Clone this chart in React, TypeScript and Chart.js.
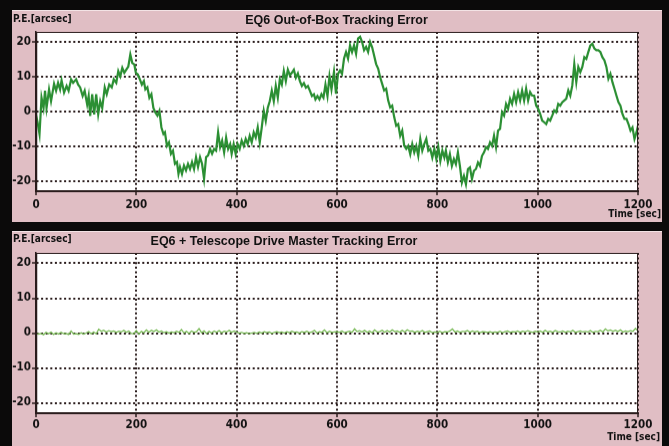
import React, { useEffect, useRef } from "react";
import { Chart, registerables } from "chart.js";

Chart.register(...registerables);

// ---------- data ----------
const X_TICKS = [0, 200, 400, 600, 800, 1000, 1200];
const Y_TICKS = [-20, -10, 0, 10, 20];
const X_MIN = 0;
const X_MAX = 1200;
const Y_MIN = -23;
const Y_MAX = 23;

const TOP_TITLE = "EQ6 Out-of-Box Tracking Error";
const BOTTOM_TITLE = "EQ6 + Telescope Drive Master Tracking Error";
const Y_LABEL = "P.E.[arcsec]";
const X_LABEL = "Time [sec]";

const TOP_TIMES = [
  0, 3, 7, 11, 15, 18, 21, 26, 30, 36, 40, 44, 48, 51, 56, 61, 65, 70, 74, 80,
  84, 88, 93, 97, 102, 105, 108, 112, 116, 120, 124, 128, 132, 137, 141, 146, 151, 155, 160, 164,
  168, 172, 176, 180, 184, 188, 192, 196, 199, 203, 207, 211, 215, 218, 222, 226, 230, 234, 238, 242,
  246, 250, 254, 257, 261, 265, 269, 273, 277, 281, 284, 287, 291, 295, 299, 303, 307, 311, 315, 319,
  323, 327, 331, 335, 339, 343, 347, 351, 355, 359, 363, 367, 371, 375, 379, 383, 387, 390, 394, 398,
  402, 406, 410, 414, 418, 422, 426, 430, 434, 438, 442, 446, 450, 454, 458, 462, 466, 470, 474, 478,
  482, 486, 490, 494, 498, 502, 506, 510, 514, 518, 522, 526, 530, 534, 538, 542, 546, 550, 554, 557,
  561, 565, 569, 573, 577, 581, 585, 589, 594, 598, 602, 606, 610, 614, 618, 622, 626, 630, 634, 638,
  642, 646, 650, 654, 658, 662, 666, 670, 674, 678, 682, 686, 690, 694, 698, 702, 706, 710, 714, 718,
  722, 726, 730, 734, 738, 742, 746, 750, 754, 758, 762, 766, 770, 774, 778, 782, 786, 790, 794, 798,
  802, 806, 810, 814, 817, 821, 825, 829, 833, 837, 841, 845, 849, 853, 857, 861, 865, 869, 873, 877,
  881, 885, 889, 893, 897, 901, 905, 909, 913, 917, 921, 925, 929, 933, 937, 941, 945, 949, 953, 957,
  961, 965, 969, 973, 977, 981, 985, 989, 993, 997, 1001, 1005, 1009, 1013, 1017, 1021, 1025, 1029, 1033, 1037,
  1041, 1045, 1049, 1053, 1057, 1061, 1065, 1069, 1073, 1077, 1081, 1085, 1089, 1093, 1097, 1101, 1105, 1109, 1113, 1117,
  1121, 1125, 1129, 1133, 1137, 1141, 1145, 1149, 1153, 1157, 1161, 1165, 1169, 1173, 1177, 1181, 1185, 1189, 1193, 1197,
  1200,
];

const TOP_VALUES = [
  -1, -3, -6.5, 4, 1, 6, 1, 6.4, 3, 8, 6, 8.3, 6.4, 9, 5.5, 7.4, 6, 9.3, 8.3, 9.3,
  7.8, 7, 4.5, 6, 2, 4.5, -1.3, 5, -0.8, 5, -0.8, 3, 1, 7, 5, 7.8, 7, 9.3, 8.3, 11.7,
  10.2, 12.6, 11.2, 12.1, 13, 16.5, 14, 13.6, 11.2, 10.7, 9.3, 7.8, 8.8, 6.4, 7, 4, 5, 1, -0.3, -1.2,
  0.2, -4.6, -6.5, -6, -9.9, -8.9, -12.2, -11.3, -15.1, -14.6, -18, -16, -18, -15.6, -17, -15.1, -16.6, -14.6, -16.6, -13.2,
  -16, -13.2, -15.1, -19.4, -13.2, -12.7, -10.8, -12.2, -10.8, -11.3, -6, -10.3, -8.4, -11.8, -7.5, -10.8, -9.4, -12.2, -9.4, -12.2,
  -9.4, -10.8, -8.4, -9.9, -7.9, -9.4, -7, -8.9, -6, -7.5, -4.6, -8.9, -4.6, 0.2, -2.7, 1.1, 3, 6, 3, 7.4,
  4, 9.3, 7.8, 11.7, 8.8, 12.1, 10.5, 11.2, 12.1, 9.8, 11, 8.8, 7.4, 8.2, 6.9, 7.4, 6, 4.5, 5, 3.5,
  4.5, 3.5, 5, 4, 7.8, 4.5, 10.2, 6.4, 11.5, 5.1, 10.9, 11.9, 10.9, 15.3, 17.2, 15.3, 19.1, 17.2, 19.1, 16.7,
  21.1, 21.6, 20.1, 17.7, 18.7, 17.2, 20.1, 18.6, 16.2, 13.7, 12.4, 9.9, 8, 6.1, 6.6, 3.2, 1.2, 1.7, -1.6, -4.1,
  -3.6, -7, -5.5, -9.9, -10.8, -9.9, -12.3, -9.4, -11.8, -9.9, -12.8, -7.9, -11.3, -9.4, -7.9, -11.3, -10.8, -13.3, -10.8, -13.7,
  -10.3, -14.3, -11.3, -13.3, -11.3, -14.7, -12.3, -15.7, -13.7, -15.2, -11.8, -15.7, -20.5, -18.6, -21, -16.6, -16.1, -19.5, -17.1, -16.6,
  -14.7, -15.7, -12.8, -11.8, -10.3, -10.8, -8.9, -9.9, -7, -10.3, -5.5, -5, -0.2, -1.2, 2.2, 0.8, 3.7, 2.2, 5.1, 2.7,
  5.6, 3.2, 6.1, 3.2, 6.6, 3.2, 5.6, 4.6, 4.6, 1.7, 0.8, -0.7, -2.6, -3.1, -3.6, -2.1, -2.6, -1.2, 0.3, -0.2,
  2.2, 1.7, 2.7, 3.2, 3.7, 6.1, 4.6, 7.5, 13.7, 8.5, 12.9, 11.4, 12.9, 15.7, 15.2, 17.2, 19.1, 19.6, 18.2, 17.7,
  17.7, 17.2, 15.7, 14.8, 12.9, 9.5, 10.9, 8.5, 6.6, 4.6, 2.7, 1.7, -0.7, -2.1, -2.1, -3.6, -5.5, -4.6, -7.9, -6,
  -4.1,
];

// sampled every 5 s
const BOTTOM_STEP = 5;
const BOTTOM_VALUES = [
  0.0, -0.3, -0.1, -0.5, 0.2, -0.2, 0.3, -0.4, 0.1, -0.3,
  0.2, -0.2, -0.1, -0.4, 0.6, -0.3, -0.2, -0.4, 0.1, -0.3,
  0.0, 0.4, -0.2, 0.3, -0.2, 1.1, 0.5, 0.8, 0.3, 0.7,
  0.4, 0.6, 0.2, 0.5, 0.3, 0.8, 0.2, 0.6, -0.1, -0.2,
  0.7, -0.3, 0.5, 0.1, 0.9, 0.2, 0.8, 0.4, 0.9, 0.3,
  0.6, 0.1, 0.4, 0.0, 0.3, 0.1, 0.5, 0.2, 1.0, 0.0,
  0.5, -0.1, 0.6, 0.2, 0.4, 1.3, 0.1, 0.6, -0.1, 0.5,
  0.0, 0.6, 0.2, 0.7, 0.1, 0.5, 0.3, 0.8, 0.2, 0.6,
  0.3, 0.0, 0.2, -0.1, 0.1, -0.2, 0.0, 0.2, -0.1, 0.3,
  0.0, 0.4, 0.1, 0.3, -0.1, 0.2, 0.4, 0.1, 0.3, 0.0,
  0.4, 0.1, 0.5, 0.2, 0.3, 0.0, 0.4, 0.2, 0.5, 0.1,
  0.3, 0.8, 0.0, 0.4, 0.2, 0.9, 0.1, 0.5, 0.2, 0.3,
  0.4, 0.2, 0.6, 0.1, 0.3, 0.5, 0.2, 1.2, 0.4, 0.7,
  0.3, 0.8, 0.2, 0.6, 0.1, 0.9, 0.3, 0.4, 0.8, 0.2,
  0.7, 0.3, 0.9, 0.4, 0.6, 0.2, 0.8, 0.3, 0.9, 0.5,
  0.6, 0.2, 0.5, 0.3, 0.7, 0.2, 0.4, 0.6, 0.1, 0.3,
  0.2, 0.5, 0.1, 0.4, 0.3, 0.6, 1.2, 0.3, 0.6, 0.2,
  0.5, 0.4, 0.7, 0.2, 0.6, 0.3, 0.5, 0.1, 0.4, 0.3,
  0.2, 0.4, 0.1, 0.3, 0.2, 0.5, 0.1, 0.4, 0.6, 0.2,
  0.4, 0.3, 0.6, 0.2, 0.5, 0.3, 0.7, 0.4, 0.2, 0.5,
  0.3, 0.6, 0.2, 0.8, 0.3, 0.5, 0.2, 0.7, 0.4, 0.3,
  0.6, 0.2, 0.5, 0.3, 0.8, 0.2, 0.4, 0.6, 0.3, 0.5,
  0.3, 0.7, 0.2, 0.5, 0.4, 0.8, 0.3, 1.2, 0.6, 0.9,
  0.5, 0.8, 0.4, 0.9, 0.3, 0.6, 0.4, 0.7, 0.5, 1.3,
  0.6,
];
const BOTTOM_TIMES = BOTTOM_VALUES.map((_, i) => i * BOTTOM_STEP);

// ---------- styles ----------
const PINK = "#e0bec4";
const DARK = "#2a1c1c";
const NARROW = '"Liberation Sans Narrow", "DejaVu Sans Condensed", "Liberation Sans", Arial, sans-serif';
const SANS = '"Liberation Sans", Arial, sans-serif';

const decorPlugin = {
  id: "panelDecor",
  beforeDraw(chart: any) {
    const { ctx, chartArea: a } = chart;
    ctx.save();
    ctx.fillStyle = "#ffffff";
    ctx.fillRect(a.left, a.top, a.right - a.left, a.bottom - a.top);
    ctx.restore();
  },
  afterDraw(chart: any, _args: any, o: any) {
    const { ctx, chartArea: a } = chart;
    ctx.save();
    ctx.strokeStyle = DARK;
    ctx.lineWidth = 1;
    ctx.strokeRect(a.left + 0.5, a.top + 0.5, a.right - a.left - 1, a.bottom - a.top - 1);
    ctx.lineWidth = 2;
    ctx.beginPath();
    ctx.moveTo(a.left, a.bottom);
    ctx.lineTo(a.right + 1, a.bottom);
    ctx.stroke();
    ctx.lineWidth = 1.5;
    ctx.beginPath();
    ctx.moveTo(a.left + 0.5, a.top);
    ctx.lineTo(a.left + 0.5, a.bottom);
    ctx.stroke();

    ctx.fillStyle = "#111";
    ctx.textBaseline = "middle";
    ctx.font = `bold 10px ${NARROW}`;
    ctx.textAlign = "left";
    ctx.fillText(Y_LABEL, o.yLabelX, o.yLabelY);
    ctx.textAlign = "right";
    ctx.fillText(X_LABEL, o.xLabelX, o.xLabelY);
    ctx.font = `bold 12.5px ${SANS}`;
    ctx.textAlign = "center";
    ctx.fillText(o.title, o.titleX, o.titleY);
    ctx.restore();
  },
};

type PanelProps = {
  width: number;
  height: number;
  left: number;
  top: number;
  times: number[];
  values: number[];
  color: string;
  lineWidth: number;
  padTop: number;
  xAxisHeight: number;
  xLabelPad: number;
  title: string;
  titleX: number;
  titleY: number;
  yLabelY: number;
  xLabelX: number;
  xLabelY: number;
};

function Panel(p: PanelProps) {
  const ref = useRef<HTMLCanvasElement | null>(null);
  useEffect(() => {
    if (!ref.current) return;
    const data = p.times.map((t, i) => ({ x: t, y: p.values[i] }));
    const tickFont = { family: NARROW, size: 11.5, weight: "bold" as const };
    const chart = new Chart(ref.current, {
      type: "line",
      data: {
        datasets: [
          {
            data,
            borderColor: p.color,
            borderWidth: p.lineWidth,
            pointRadius: 0,
            tension: 0,
            fill: false,
          },
        ],
      },
      options: {
        animation: false,
        responsive: false,
        devicePixelRatio: 1,
        layout: { padding: { top: p.padTop, right: 24, left: 0, bottom: 0 } },
        plugins: {
          legend: { display: false },
          tooltip: { enabled: false },
          title: { display: false },
          panelDecor: {
            title: p.title,
            titleX: p.titleX,
            titleY: p.titleY,
            yLabelX: 1,
            yLabelY: p.yLabelY,
            xLabelX: p.xLabelX,
            xLabelY: p.xLabelY,
          },
        } as any,
        scales: {
          x: {
            type: "linear",
            min: X_MIN,
            max: X_MAX,
            afterBuildTicks: (s: any) => {
              s.ticks = X_TICKS.map((v) => ({ value: v }));
            },
            afterFit: (s: any) => {
              s.height = p.xAxisHeight;
            },
            ticks: {
              color: "#111",
              font: tickFont,
              padding: p.xLabelPad,
              maxRotation: 0,
              autoSkip: false,
              callback: (v: any) => String(v),
            },
            grid: {
              color: DARK,
              lineWidth: 2,
              tickLength: 4,
              tickColor: DARK,
              tickWidth: 1.5,
            },
            border: { display: true, color: DARK, width: 2, dash: [2, 2.6] },
          },
          y: {
            type: "linear",
            min: Y_MIN,
            max: Y_MAX,
            afterBuildTicks: (s: any) => {
              s.ticks = Y_TICKS.map((v) => ({ value: v }));
            },
            afterFit: (s: any) => {
              s.width = 24;
            },
            ticks: {
              color: "#111",
              font: tickFont,
              padding: 1,
              callback: (v: any) => String(v),
            },
            grid: {
              color: DARK,
              lineWidth: 2,
              tickLength: 4,
              tickColor: DARK,
              tickWidth: 1.5,
            },
            border: { display: true, color: DARK, width: 1.5, dash: [2, 2.6] },
          },
        },
      },
      plugins: [decorPlugin as any],
    });
    return () => chart.destroy();
  }, []);
  return (
    <canvas
      ref={ref}
      width={p.width}
      height={p.height}
      style={{
        position: "absolute",
        left: p.left,
        top: p.top,
        width: p.width,
        height: p.height,
        background: PINK,
        borderTop: "1px solid #f3e3e5",
        boxSizing: "border-box",
      }}
    />
  );
}

export default function App() {
  return (
    <div
      style={{
        position: "fixed",
        left: 0,
        top: 0,
        width: 669,
        height: 446,
        background: "#0b0a0a",
        overflow: "hidden",
      }}
    >
      <Panel
        width={650}
        height={212}
        left={12}
        top={10}
        times={TOP_TIMES}
        values={TOP_VALUES}
        color="#2b8f33"
        lineWidth={2.2}
        padTop={21}
        xAxisHeight={31}
        xLabelPad={3}
        title={TOP_TITLE}
        titleX={324.5}
        titleY={10}
        yLabelY={8.5}
        xLabelX={649}
        xLabelY={204}
      />
      <Panel
        width={650}
        height={215}
        left={12}
        top={231}
        times={BOTTOM_TIMES}
        values={BOTTOM_VALUES}
        color="#74b850"
        lineWidth={1.2}
        padTop={21}
        xAxisHeight={33}
        xLabelPad={1}
        title={BOTTOM_TITLE}
        titleX={272}
        titleY={10}
        yLabelY={7.5}
        xLabelX={648}
        xLabelY={206}
      />
    </div>
  );
}
